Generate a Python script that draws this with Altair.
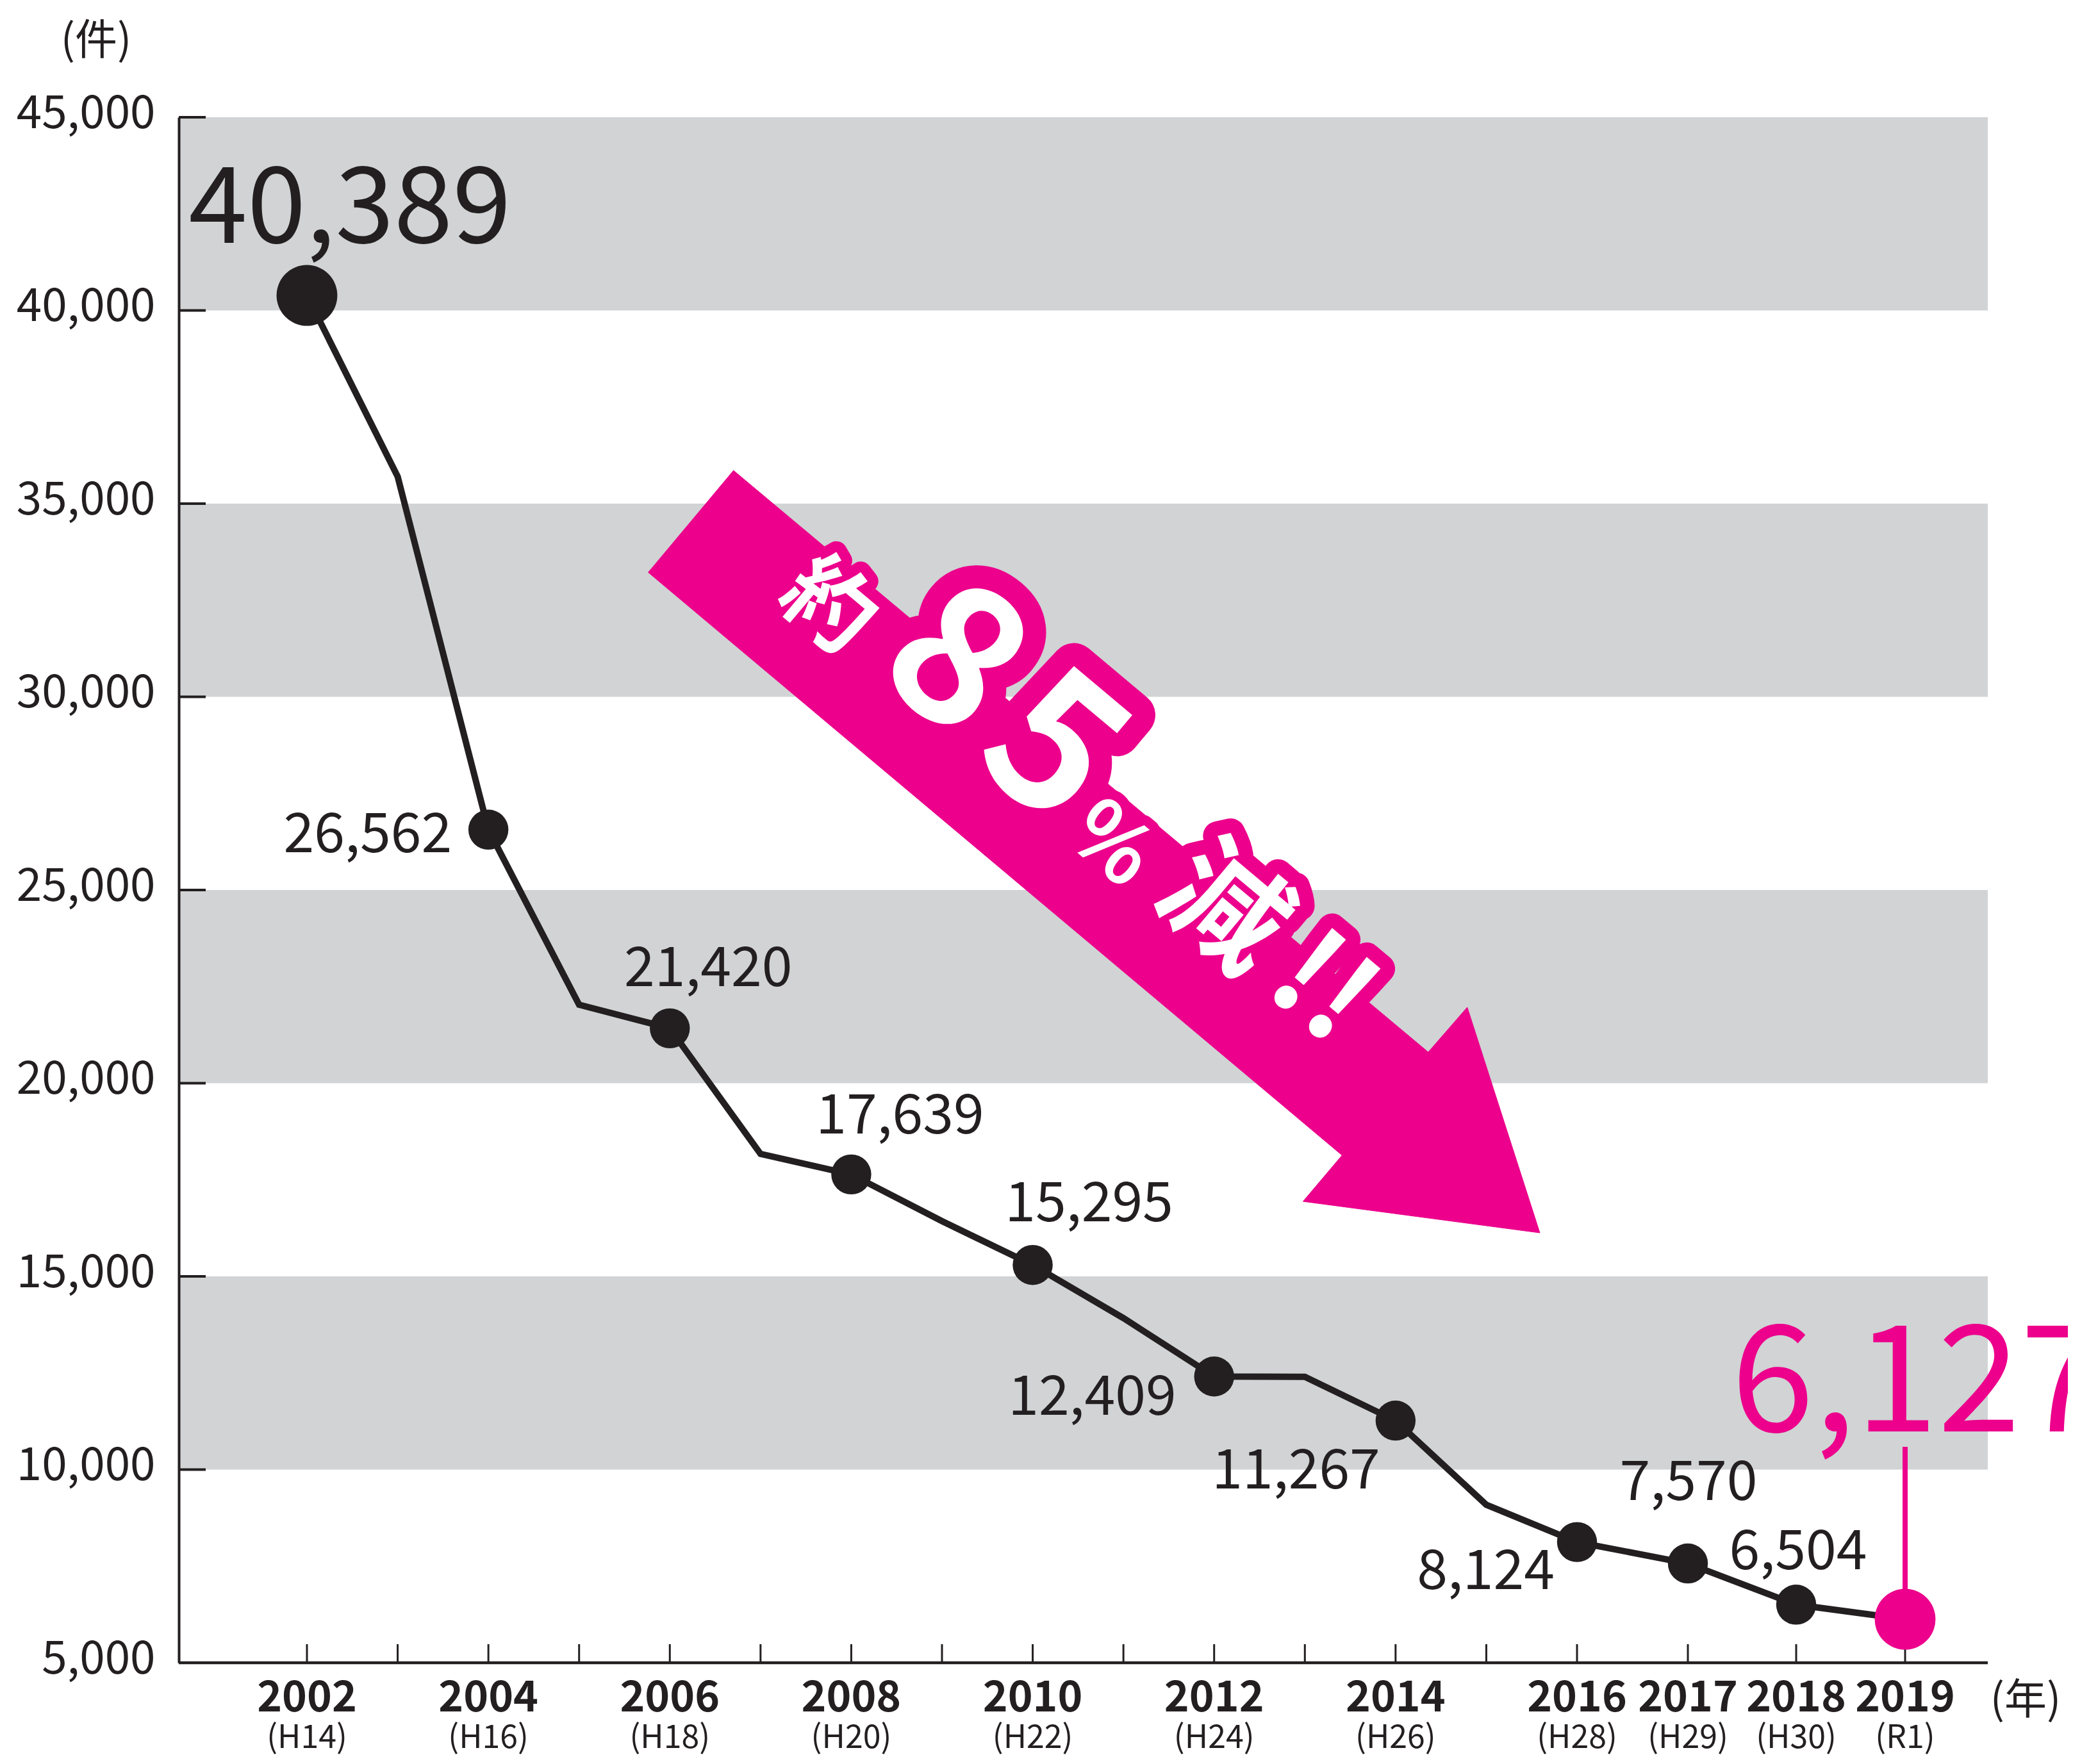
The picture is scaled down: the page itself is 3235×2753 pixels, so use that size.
import altair as alt
import pandas as pd

# ---------------- data ----------------
YEARS = list(range(2002, 2020))
COUNTS = [40389, 35700, 26562, 22030, 21420, 18170, 17639, 16430, 15295,
          13920, 12409, 12400, 11267, 9090, 8124, 7570, 6504, 6127]
MARKED_YEARS = [2002, 2004, 2006, 2008, 2010, 2012, 2014, 2016, 2017, 2018, 2019]
YEAR_LABELS = ["2002", "2004", "2006", "2008", "2010", "2012", "2014",
               "2016", "2017", "2018", "2019"]
ERA_LABELS = ["(H14)", "(H16)", "(H18)", "(H20)", "(H22)", "(H24)", "(H26)",
              "(H28)", "(H29)", "(H30)", "(R1)"]
BAND_LOW = [10000, 20000, 30000, 40000]
BAND_HIGH = [15000, 25000, 35000, 45000]
Y_TICKS = [5000, 10000, 15000, 20000, 25000, 30000, 35000, 40000, 45000]
UNIT_Y = "(件)"
UNIT_X = "(年)"

# big arrow outline (year, count) and its caption pieces
ARROW_X = [2006.70, 2014.36, 2014.79, 2015.59, 2012.98, 2013.41, 2005.76]
ARROW_Y = [35862, 20804, 21965, 16127, 16940, 18134, 33225]
ANNOT_TEXT = ["約", "8", "5", "%", "減", "!!"]
ANNOT_X = [2007.73, 2009.11, 2010.19, 2010.85, 2012.08, 2013.17]
ANNOT_Y = [32297, 30854, 28582, 26144, 24436, 22379]

# ---------------- style / layout ----------------
INK = "#231f20"
PINK = "#ec008c"
BAND = "#d1d3d4"
FONT = "Noto Sans CJK JP"
W, H = 2823, 2412
ANNOT_SIZE = [140, 300, 300, 130, 190, 190]
# year: (align, dx, dy, fontSize, color)
LABEL_LAYOUT = {
    2002: ("center", 67, -82, 165, INK),
    2004: ("right", -57, 35, 86, INK),
    2006: ("center", 60, -66, 86, INK),
    2008: ("center", 76, -64, 86, INK),
    2010: ("center", 88, -68, 86, INK),
    2012: ("right", -59, 60, 86, INK),
    2014: ("right", -24, 106, 86, INK),
    2016: ("right", -35, 73, 86, INK),
    2017: ("center", 1, -99, 86, INK),
    2018: ("center", 3, -55, 86, INK),
    2019: ("left", -271, -293, 232, PINK),
}

XSCALE = alt.Scale(domain=[2002, 2016, 2017, 2018, 2019],
                   range=[200, 2182, 2355, 2524, 2694], zero=False, nice=False)
YSCALE = alt.Scale(domain=[5000, 45000], zero=False, nice=False)
YAXIS = alt.Axis(values=Y_TICKS, format=",d", title=None, ticks=False, grid=False,
                 labelFont=FONT, labelFontSize=71, labelColor=INK, labelPadding=37,
                 labelBaseline="alphabetic", labelOffset=16, labelFlush=False,
                 labelLimit=600, labelOverlap=False, domainColor=INK, domainWidth=4,
                 zindex=1)


def X(field):
    return alt.X(field, type="quantitative", scale=XSCALE, axis=None)


def Y(field):
    return alt.Y(field, type="quantitative", scale=YSCALE, axis=YAXIS)


series = pd.DataFrame({"year": YEARS, "count": COUNTS})
series["label"] = series["count"].map(lambda v: f"{v:,}")
marked = series[series["year"].isin(MARKED_YEARS)]
bands = pd.DataFrame({"lo": BAND_LOW, "hi": BAND_HIGH})
yticks = pd.DataFrame({"v": Y_TICKS})
xticks = pd.DataFrame({"year": YEARS})
xlabels = pd.DataFrame({"year": MARKED_YEARS, "yl": YEAR_LABELS, "era": ERA_LABELS})
arrow = pd.DataFrame({"ax": ARROW_X, "ay": ARROW_Y, "i": list(range(len(ARROW_X)))})

layers = []

# gray bands
layers.append(alt.Chart(bands).mark_rect(color=BAND).encode(
    y=Y("lo"), y2="hi", x=alt.value(0), x2=alt.value(W)))

# arrow
layers.append(alt.Chart(arrow).mark_line(fill=PINK, stroke=PINK, strokeWidth=1).encode(
    x=X("ax"), y=Y("ay"), order=alt.Order("i:Q")))

# arrow caption: pink halo then white glyphs
for t, ax, ay, fs in zip(ANNOT_TEXT, ANNOT_X, ANNOT_Y, ANNOT_SIZE):
    d = pd.DataFrame({"t": [t], "ax": [ax], "ay": [ay]})
    layers.append(alt.Chart(d).mark_text(
        angle=40, font=FONT, fontSize=fs, fontWeight="bold", align="center",
        baseline="middle", fill=PINK, stroke=PINK, strokeWidth=fs * 0.24,
        strokeJoin="round").encode(x=X("ax"), y=Y("ay"), text="t:N"))
    layers.append(alt.Chart(d).mark_text(
        angle=40, font=FONT, fontSize=fs, fontWeight="bold", align="center",
        baseline="middle", color="white").encode(x=X("ax"), y=Y("ay"), text="t:N"))

# inner ticks and x axis line
layers.append(alt.Chart(yticks).mark_rule(color=INK, strokeWidth=4).encode(
    y=Y("v"), x=alt.value(0), x2=alt.value(42)))
layers.append(alt.Chart(xticks).mark_rule(color=INK, strokeWidth=3).encode(
    x=X("year"), y=alt.value(H), y2=alt.value(H - 29)))
layers.append(alt.Chart(pd.DataFrame({"v": [5000]})).mark_rule(color=INK, strokeWidth=4.5).encode(
    y=Y("v"), x=alt.value(0), x2=alt.value(W)))

# data line
layers.append(alt.Chart(series).mark_line(color=INK, strokeWidth=10).encode(
    x=X("year"), y=Y("count")))

# pink leader for 2019
layers.append(alt.Chart(series[series["year"] == 2019]).mark_rule(color=PINK, strokeWidth=8).encode(
    x=X("year"), y=Y("count"), y2=alt.value(2075)))

# markers
layers.append(alt.Chart(marked[~marked["year"].isin([2002, 2019])]).mark_circle(
    color=INK, opacity=1, size=3900).encode(x=X("year"), y=Y("count")))
layers.append(alt.Chart(marked[marked["year"] == 2002]).mark_circle(
    color=INK, opacity=1, size=9000).encode(x=X("year"), y=Y("count")))
layers.append(alt.Chart(marked[marked["year"] == 2019]).mark_circle(
    color=PINK, opacity=1, size=9000).encode(x=X("year"), y=Y("count")))

# value labels
for yr, (al, dx, dy, fs, col) in LABEL_LAYOUT.items():
    layers.append(alt.Chart(marked[marked["year"] == yr]).mark_text(
        font=FONT, fontSize=fs, align=al, baseline="alphabetic", dx=dx, dy=dy,
        color=col).encode(x=X("year"), y=Y("count"), text="label:N"))

# x tick labels (year + era)
layers.append(alt.Chart(xlabels).mark_text(
    font=FONT, fontSize=66, fontWeight="bold", align="center", baseline="alphabetic",
    color=INK).encode(x=X("year"), y=alt.value(H + 76), text="yl:N"))
layers.append(alt.Chart(xlabels).mark_text(
    font=FONT, fontSize=50, align="center", baseline="alphabetic",
    color=INK).encode(x=X("year"), y=alt.value(H + 133), text="era:N"))

# unit captions
layers.append(alt.Chart(pd.DataFrame({"t": [UNIT_Y]})).mark_text(
    font=FONT, fontSize=66, align="center", baseline="middle", color=INK).encode(
    text="t:N", x=alt.value(-129), y=alt.value(-118)))
layers.append(alt.Chart(pd.DataFrame({"t": [UNIT_X]})).mark_text(
    font=FONT, fontSize=66, align="center", baseline="middle", color=INK).encode(
    text="t:N", x=alt.value(2882), y=alt.value(2472)))

chart = alt.layer(*layers).properties(
    width=W, height=H,
    autosize=alt.AutoSizeParams(type="none"),
    padding={"left": 271, "top": 175, "right": 125, "bottom": 150},
    background="white",
).configure_view(stroke=None)

chart.save("out.html", embed_options={"renderer": "svg", "actions": False})
